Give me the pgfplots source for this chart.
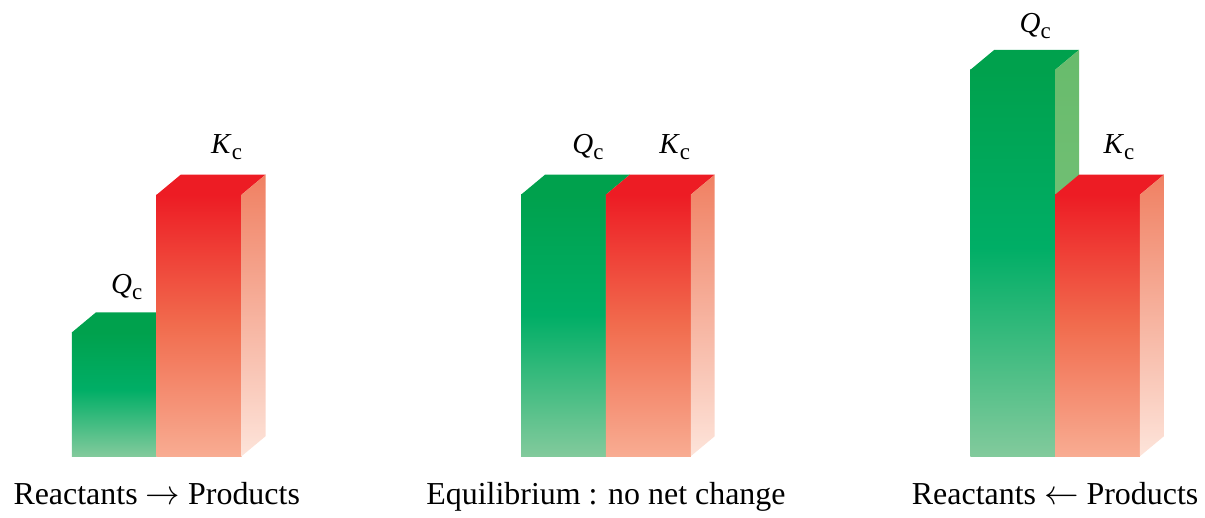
\documentclass[border=0pt]{standalone}
\usepackage{pgfplots}
\pgfplotsset{compat=1.18}
\usepackage{fontspec}
\setmainfont{Liberation Serif}

\definecolor{gtop}{RGB}{0,161,77}
\definecolor{gmid}{RGB}{0,174,102}
\definecolor{gbot}{RGB}{130,202,156}
\definecolor{rtop}{RGB}{237,28,36}
\definecolor{rmid}{RGB}{241,108,78}
\definecolor{rbot}{RGB}{248,172,146}
\definecolor{rstop}{RGB}{240,128,98}
\definecolor{rsbot}{RGB}{253,228,218}
\definecolor{gstop}{RGB}{104,187,108}
\definecolor{gsbot}{RGB}{126,198,128}

\pgfdeclareverticalshading{greenfront}{100bp}{color(0bp)=(gbot); color(25bp)=(gbot); color(52bp)=(gmid); color(75bp)=(gtop); color(100bp)=(gtop)}
\pgfdeclareverticalshading{redfront}{100bp}{color(0bp)=(rbot); color(25bp)=(rbot); color(50bp)=(rmid); color(75bp)=(rtop); color(100bp)=(rtop)}
\pgfdeclareverticalshading{redside}{100bp}{color(0bp)=(rsbot); color(25bp)=(rsbot); color(75bp)=(rstop); color(100bp)=(rstop)}
\pgfdeclareverticalshading{greenside}{100bp}{color(0bp)=(gsbot); color(25bp)=(gsbot); color(75bp)=(gstop); color(100bp)=(gstop)}

\newcommand{\Qc}{\fontsize{14.5}{16}\selectfont\textit{Q}\raisebox{-0.45ex}{\fontsize{11.5}{13}\selectfont c}}
\newcommand{\Kc}{\fontsize{14.5}{16}\selectfont\textit{K}\raisebox{-0.45ex}{\fontsize{11.5}{13}\selectfont c}}

\begin{document}
\begin{tikzpicture}
\begin{axis}[
  scale only axis, width=602.5pt, height=256.5pt,
  xmin=0, xmax=1205, ymin=-56, ymax=457,
  hide axis, clip=false, no markers,
  every axis plot/.append style={draw=none, line width=0pt},
]
% invisible frame
\addplot[draw=none, fill=none] coordinates {(0,-56) (1205,457)};

% ===== Group 1: Qc = 124, Kc = 262 =====
\addplot[shading=greenfront, shade] coordinates {(72,0) (157,0) (157,124) (72,124)} --cycle;
\addplot[fill=gtop] coordinates {(72,124) (157,124) (181,144) (96,144)} --cycle;
\addplot[shading=greenside, shade] coordinates {(157,0) (181,20) (181,144) (157,124)} --cycle;
\addplot[shading=redfront, shade] coordinates {(157,0) (242,0) (242,262) (157,262)} --cycle;
\addplot[fill=rtop] coordinates {(157,262) (242,262) (266,282) (181,282)} --cycle;
\addplot[shading=redside, shade] coordinates {(242,0) (266,20) (266,282) (242,262)} --cycle;

% ===== Group 2: Qc = 262, Kc = 262 =====
\addplot[shading=greenfront, shade] coordinates {(522,0) (607,0) (607,262) (522,262)} --cycle;
\addplot[fill=gtop] coordinates {(522,262) (607,262) (631,282) (546,282)} --cycle;
\addplot[shading=greenside, shade] coordinates {(607,0) (631,20) (631,282) (607,262)} --cycle;
\addplot[shading=redfront, shade] coordinates {(607,0) (692,0) (692,262) (607,262)} --cycle;
\addplot[fill=rtop] coordinates {(607,262) (692,262) (716,282) (631,282)} --cycle;
\addplot[shading=redside, shade] coordinates {(692,0) (716,20) (716,282) (692,262)} --cycle;

% ===== Group 3: Qc = 387, Kc = 262 =====
\addplot[shading=greenfront, shade] coordinates {(972,0) (1057,0) (1057,387) (972,387)} --cycle;
\addplot[fill=gtop] coordinates {(972,387) (1057,387) (1081,407) (996,407)} --cycle;
\addplot[shading=greenside, shade] coordinates {(1057,0) (1081,20) (1081,407) (1057,387)} --cycle;
\addplot[shading=redfront, shade] coordinates {(1057,0) (1142,0) (1142,262) (1057,262)} --cycle;
\addplot[fill=rtop] coordinates {(1057,262) (1142,262) (1166,282) (1081,282)} --cycle;
\addplot[shading=redside, shade] coordinates {(1142,0) (1166,20) (1166,282) (1142,262)} --cycle;

% labels above bars
\node[anchor=base] at (axis cs:127,163) {\Qc};
\node[anchor=base] at (axis cs:227,303) {\Kc};
\node[anchor=base] at (axis cs:589,303) {\Qc};
\node[anchor=base] at (axis cs:676,303) {\Kc};
\node[anchor=base] at (axis cs:1037,424) {\Qc};
\node[anchor=base] at (axis cs:1121,303) {\Kc};

% category labels
\node[anchor=base, font=\fontsize{16}{19}\selectfont] at (axis cs:157,-48) {Reactants $\rightarrow$ Products};
\node[anchor=base, font=\fontsize{16}{19}\selectfont] at (axis cs:607,-48) {Equilibrium : no net change};
\node[anchor=base, font=\fontsize{16}{19}\selectfont] at (axis cs:1057,-48) {Reactants $\leftarrow$ Products};
\end{axis}
\end{tikzpicture}
\end{document}
